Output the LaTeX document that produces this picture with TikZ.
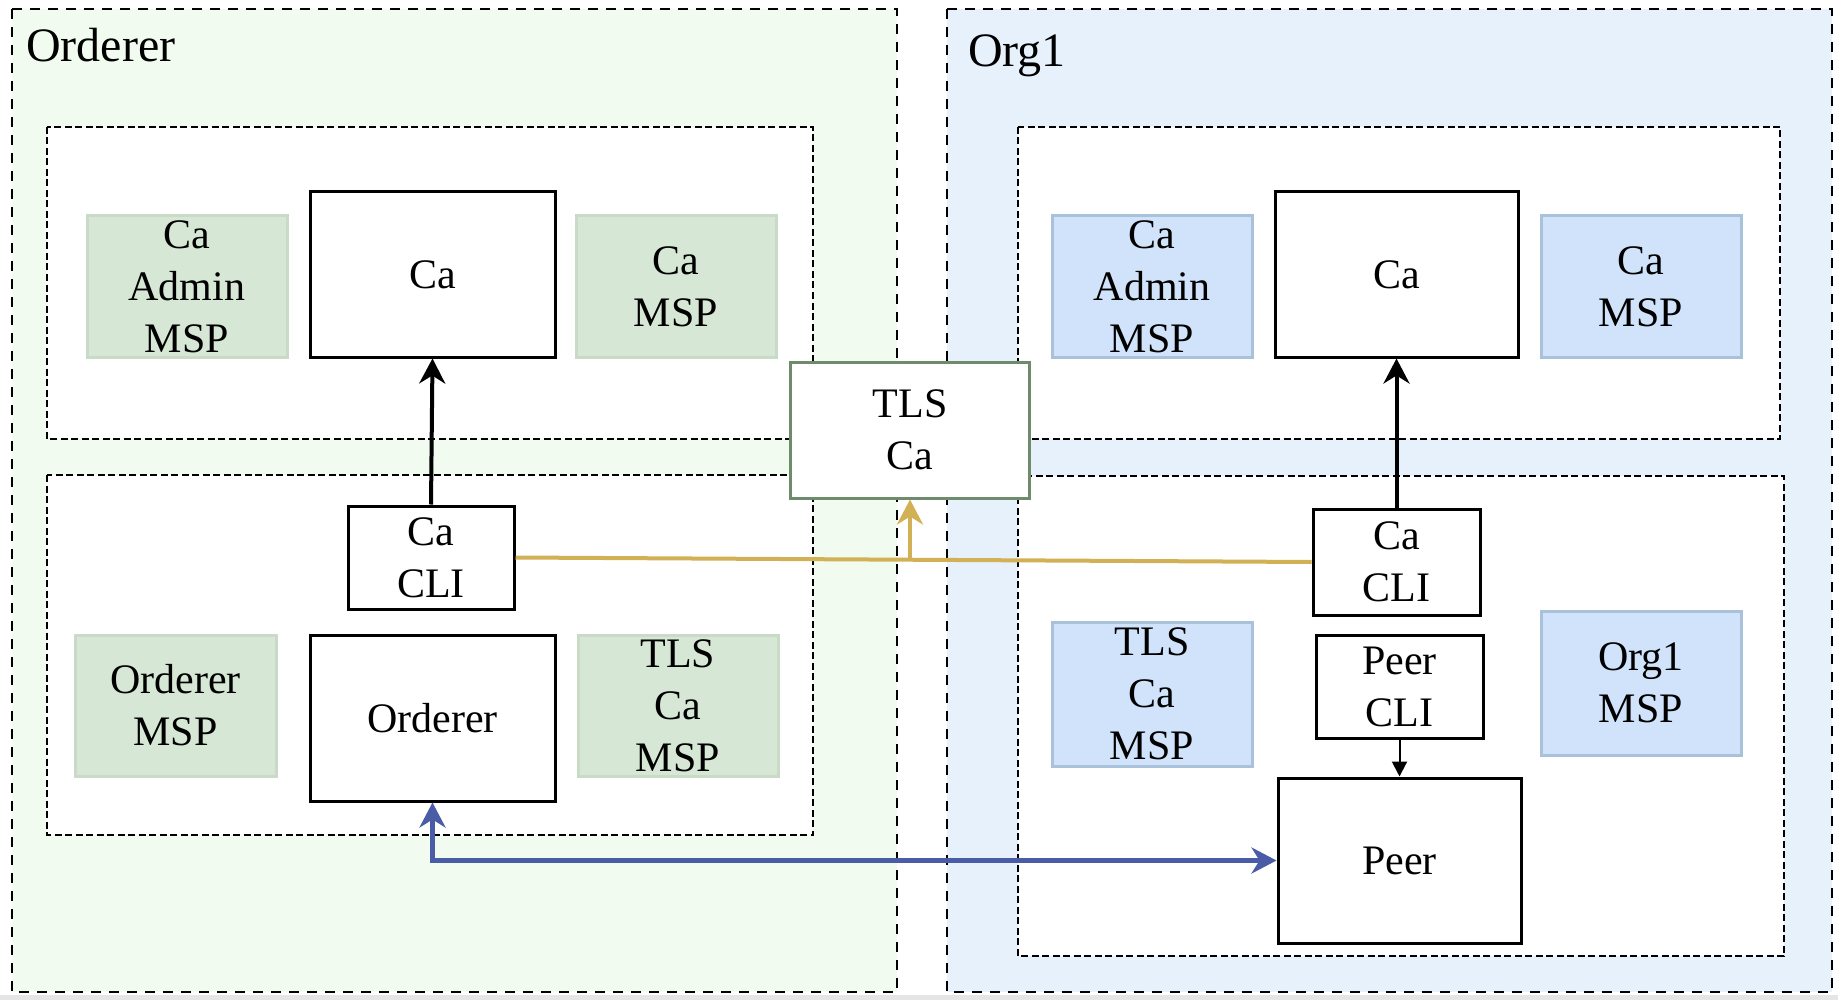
\documentclass[tikz,border=0pt]{standalone}
\usepackage{fontspec}
\setmainfont{Liberation Serif}
\usetikzlibrary{arrows.meta}
\definecolor{lgbg}{HTML}{F1FBF0}
\definecolor{lbbg}{HTML}{E7F1FC}
\definecolor{gfill}{HTML}{D6E7D5}
\definecolor{gline}{HTML}{C9DAC6}
\definecolor{bfill}{HTML}{D0E3FA}
\definecolor{bline}{HTML}{A9C2D9}
\definecolor{tlsline}{HTML}{6E8B6B}
\definecolor{gold}{HTML}{D2B055}
\definecolor{navy}{HTML}{4A5CA6}
\tikzset{
  outerbox/.style={line width=2.8pt, dash pattern=on 10pt off 8pt},
  innerbox/.style={line width=2.4pt, dash pattern=on 7pt off 3.5pt, fill=white},
  txt/.style={font=\fontsize{42}{52}\selectfont, align=center, inner sep=0pt},
  plainbox/.style={txt, draw=black, line width=3pt, fill=white},
  greenbox/.style={txt, draw=gline, line width=3pt, fill=gfill},
  bluebox/.style={txt, draw=bline, line width=3pt, fill=bfill},
  tlsbox/.style={txt, draw=tlsline, line width=3pt, fill=white},
  title/.style={font=\fontsize{48}{52}\selectfont, inner sep=0pt, anchor=base west},
  bigtip/.style={-{Stealth[length=25pt,width=26pt,inset=8pt]}},
}
\begin{document}
\begin{tikzpicture}[x=1pt,y=-1pt]
\useasboundingbox (0,0) rectangle (1838,1000);
\fill[white] (0,0) rectangle (1838,1000);
\fill[black!10] (0,995) rectangle (1838,1000);
% outer regions
\draw[outerbox, fill=lgbg] (12,9) rectangle (897,992);
\draw[outerbox, fill=lbbg] (947,9) rectangle (1832,992);
\node[title] (tord) at (26,62) {Orderer};
\node[title] (torg) at (968,67) {Org1};
% inner regions
\draw[innerbox] (47,127) rectangle (813,439);
\draw[innerbox] (47,475) rectangle (813,835);
\draw[innerbox] (1018,127) rectangle (1780,439);
\draw[innerbox] (1018,476) rectangle (1784,956);
% left nodes
\node[greenbox, minimum width=200pt, minimum height=141pt] (lcaadm) at (187,286.5) {Ca\\Admin\\MSP};
\node[plainbox, minimum width=245pt, minimum height=165pt] (lca) at (432.5,274.5) {Ca};
\node[greenbox, minimum width=200pt, minimum height=141pt] (lcamsp) at (676,286.5) {Ca\\MSP};
\node[plainbox, minimum width=166pt, minimum height=103pt] (lcacli) at (431,557.5) {Ca\\CLI};
\node[greenbox, minimum width=201pt, minimum height=141pt] (lordmsp) at (175.5,705.5) {Orderer\\MSP};
\node[plainbox, minimum width=245pt, minimum height=166pt] (lord) at (432.5,718) {Orderer};
\node[greenbox, minimum width=200pt, minimum height=141pt] (ltlsmsp) at (678,705.5) {TLS\\Ca\\MSP};
% right nodes
\node[bluebox, minimum width=200pt, minimum height=141pt] (rcaadm) at (1152,286.5) {Ca\\Admin\\MSP};
\node[plainbox, minimum width=243pt, minimum height=165pt] (rca) at (1396.5,274.5) {Ca};
\node[bluebox, minimum width=200pt, minimum height=141pt] (rcamsp) at (1641,286.5) {Ca\\MSP};
\node[plainbox, minimum width=167pt, minimum height=106pt] (rcacli) at (1396.5,562) {Ca\\CLI};
\node[plainbox, minimum width=167pt, minimum height=103pt] (pcli) at (1399.5,686.5) {Peer\\CLI};
\node[plainbox, minimum width=243pt, minimum height=165pt] (peer) at (1399.5,860.5) {Peer};
\node[bluebox, minimum width=200pt, minimum height=144pt] (rtlsmsp) at (1152,694) {TLS\\Ca\\MSP};
\node[bluebox, minimum width=200pt, minimum height=144pt] (org1msp) at (1641,683) {Org1\\MSP};
% TLS Ca
\node[tlsbox, minimum width=239pt, minimum height=136pt] (tlsca) at (910,430) {TLS\\Ca};
% connectors
\draw[bigtip, line width=4pt] (lcacli.north) -- (lca.south);
\draw[bigtip, line width=4pt] (rcacli.north) -- (rca.south);
\coordinate (junc) at (tlsca.south |- lcacli.east);
\draw[gold, line width=4pt] (lcacli.east) -- (rcacli.west);
\draw[gold, line width=4pt, bigtip] (junc) -- (tlsca.south);
\draw[navy, line width=4.5pt, {Stealth[length=25pt,width=26pt,inset=8pt]}-{Stealth[length=25pt,width=26pt,inset=8pt]}] (lord.south) |- (peer.west);
\draw[line width=2pt, -{Triangle[length=15pt,width=15pt]}] (pcli.south) -- (peer.north);
\end{tikzpicture}
\end{document}
